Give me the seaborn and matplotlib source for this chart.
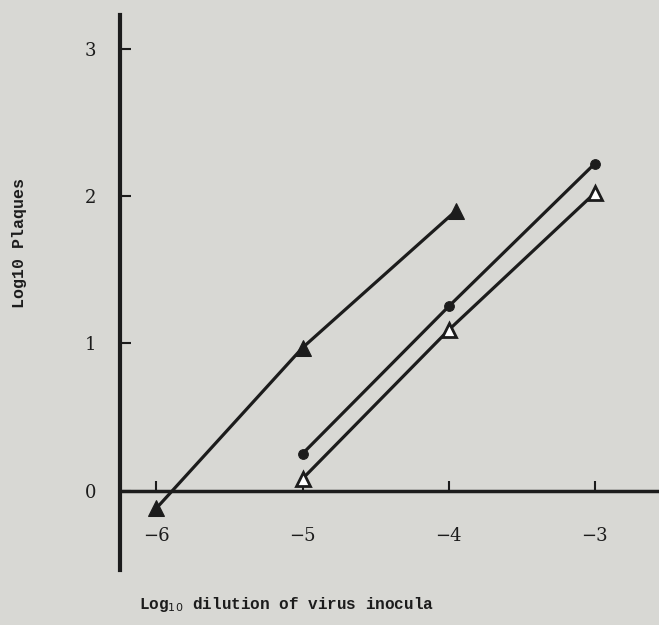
import matplotlib
matplotlib.use("Agg")
import matplotlib.pyplot as plt
import pandas as pd
import seaborn as sns

# Data
filled_tri_x = [-6.0, -5.0, -3.95]
filled_tri_y = [-0.12, 0.97, 1.90]
circle_x = [-5.0, -4.0, -3.0]
circle_y = [0.25, 1.25, 2.22]
open_tri_x = [-5.0, -4.0, -3.0]
open_tri_y = [0.08, 1.09, 2.02]

x_ticks = [-6, -5, -4, -3]
x_tick_labels = ['\u22126', '\u22125', '\u22124', '\u22123']
y_ticks = [0, 1, 2, 3]
y_tick_labels = ['0', '1', '2', '3']

sns.set_style('white')
plt.rcParams['font.family'] = ['DejaVu Serif']

paper = '#d8d8d4'
ink = '#1c1c1c'

fig = plt.figure(figsize=(6.59, 6.25), dpi=100, facecolor=paper)
ax = fig.add_axes([0.182, 0.088, 0.818, 0.888])
ax.set_facecolor(paper)

#filled triangles
sns.lineplot(x=filled_tri_x, y=filled_tri_y, ax=ax, color=ink, linewidth=2.3,
             marker='^', markersize=12, markeredgecolor=ink, markerfacecolor=ink)
#filled circles
sns.lineplot(x=circle_x, y=circle_y, ax=ax, color=ink, linewidth=2.3,
             marker='o', markersize=7, markeredgecolor=ink, markerfacecolor=ink)
#open triangles
sns.lineplot(x=open_tri_x, y=open_tri_y, ax=ax, color=ink, linewidth=2.3,
             marker='^', markersize=10, markeredgecolor=ink, markerfacecolor='white',
             markeredgewidth=2)

ax.set_xlim(-6.25, -2.56)
ax.set_ylim(-0.54, 3.23)

#axes like the original: y axis at the left, x axis through zero
for side in ['top', 'right']:
    ax.spines[side].set_visible(False)
ax.spines['bottom'].set_position(('data', 0))
ax.spines['left'].set_linewidth(3)
ax.spines['bottom'].set_linewidth(2.5)
ax.spines['left'].set_color(ink)
ax.spines['bottom'].set_color(ink)

ax.set_xticks(x_ticks)
ax.set_xticklabels(x_tick_labels)
ax.set_yticks(y_ticks)
ax.set_yticklabels(y_tick_labels)
ax.tick_params(axis='x', bottom=True, direction='in', length=7, width=1.5, pad=26,
               labelsize=13, colors=ink)
ax.tick_params(axis='y', left=True, direction='in', length=8, width=1.5, pad=17,
               labelsize=13, colors=ink)
ax.set_xlabel('')
ax.set_ylabel('')

fig.text(0.435, 0.032, 'Log$_{10}$ dilution of virus inocula', ha='center', va='center',
         fontsize=11.5, fontweight='bold', family='Liberation Mono', color=ink)
fig.text(0.03, 0.611, 'Log10 Plaques', ha='center', va='center', rotation=90,
         fontsize=12, fontweight='bold', family='Liberation Mono', color=ink)

fig.savefig('out.png', dpi=100, facecolor=paper)
